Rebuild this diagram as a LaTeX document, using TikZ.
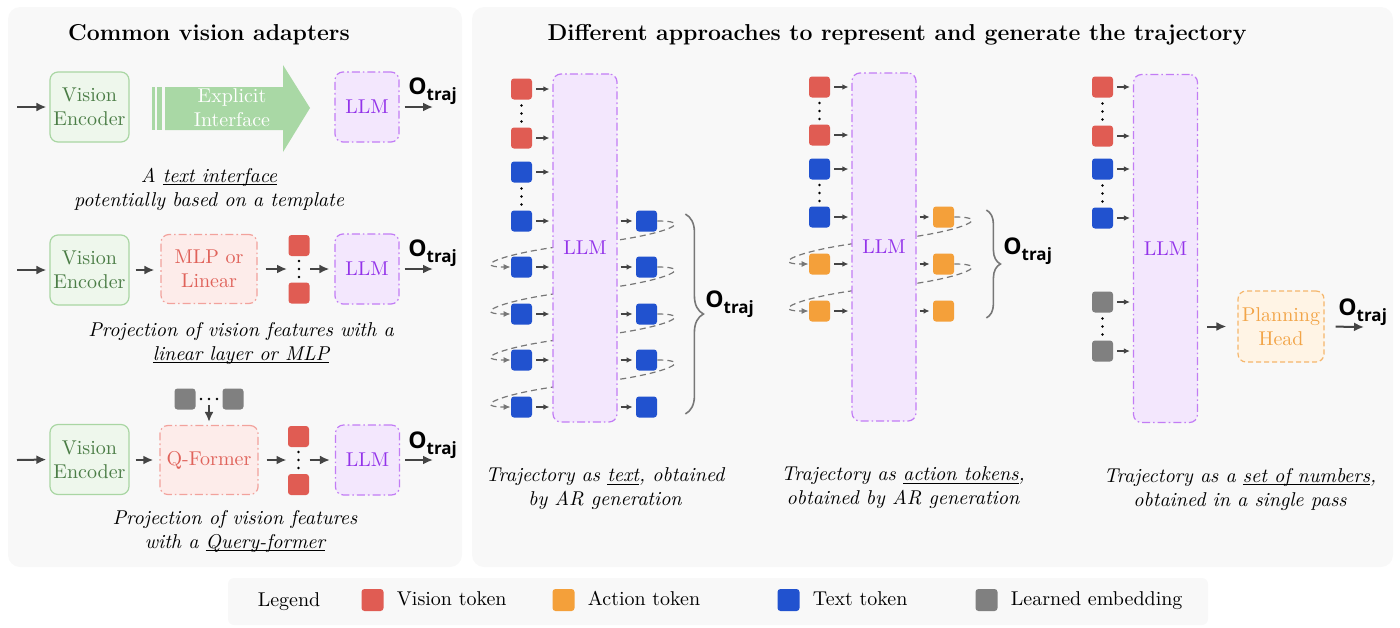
\documentclass[tikz,border=0pt]{standalone}
\usepackage{fontspec}
\newfontfamily\osans{Open Sans}
\usetikzlibrary{positioning,arrows.meta,decorations.pathreplacing,calc}

\definecolor{visred}{HTML}{E05C53}
\definecolor{actorange}{HTML}{F4A03A}
\definecolor{txtblue}{HTML}{2152CF}
\definecolor{embgray}{HTML}{808080}
\definecolor{panelgray}{HTML}{F8F8F8}
\definecolor{encfill}{HTML}{EEF7EC}
\definecolor{encdraw}{HTML}{A9D6A3}
\definecolor{enctext}{HTML}{4B7D46}
\definecolor{ifgreen}{HTML}{A9D8A5}
\definecolor{llmfill}{HTML}{F3E7FD}
\definecolor{llmdraw}{HTML}{C27CF5}
\definecolor{llmtext}{HTML}{9333EA}
\definecolor{projfill}{HTML}{FDECEA}
\definecolor{projdraw}{HTML}{F2A29C}
\definecolor{projtext}{HTML}{E0625A}
\definecolor{hdfill}{HTML}{FFF4E5}
\definecolor{hddraw}{HTML}{F5B66C}
\definecolor{hdtext}{HTML}{F2A447}
\definecolor{arrgray}{HTML}{444444}
\definecolor{loopgray}{HTML}{777777}

\newsavebox{\ulbox}
\newcommand{\ulin}[1]{\sbox{\ulbox}{#1}\rlap{\rule[-1.3pt]{\wd\ulbox}{0.45pt}}\usebox{\ulbox}}
\newcommand{\otraj}{{\osans\bfseries\fontsize{11.5}{13}\selectfont O\raisebox{-0.45ex}{\fontsize{8.5}{10}\selectfont traj}}}
% three dots, vertical or horizontal, round a point
\newcommand{\vdotsat}[1]{\foreach \k in {-8,0,8} \fill ($(#1)+(0,\k)$) circle (0.65pt);}
\newcommand{\hdotsat}[1]{\foreach \k in {-8,0,8} \fill ($(#1)+(\k,0)$) circle (0.65pt);}

\begin{document}
\begin{tikzpicture}[x=0.5pt, y=-0.5pt,
    tok/.style={rectangle, rounded corners=1.5pt, minimum size=10.5pt, inner sep=0pt},
    vis/.style={tok, fill=visred},
    act/.style={tok, fill=actorange},
    txt/.style={tok, fill=txtblue},
    emb/.style={tok, fill=embgray},
    enc/.style={draw=encdraw, fill=encfill, text=enctext, rounded corners=4pt, line width=0.6pt,
        minimum width=39.5pt, minimum height=35pt, inner sep=1pt, align=center},
    llm/.style={draw=llmdraw, fill=llmfill, text=llmtext, rounded corners=4pt, line width=0.6pt,
        dash pattern=on 4pt off 1.5pt on 0.8pt off 1.5pt, minimum width=32pt, minimum height=35pt},
    tallllm/.style={llm, minimum height=174pt},
    proj/.style={draw=projdraw, fill=projfill, text=projtext, rounded corners=4pt, line width=0.6pt,
        dash pattern=on 4pt off 1.5pt on 0.8pt off 1.5pt, minimum width=48pt, minimum height=34.5pt, align=center},
    planhd/.style={draw=hddraw, fill=hdfill, text=hdtext, rounded corners=4pt, line width=0.6pt,
        dash pattern=on 2.5pt off 1.5pt, minimum width=43pt, minimum height=35.5pt, inner sep=1pt, align=center},
    arr/.style={draw=arrgray, line width=1pt, -{Latex[length=5pt,width=4.5pt]}},
    sarr/.style={draw=arrgray, line width=0.65pt, -{Latex[length=3pt,width=2.8pt]}},
    regen/.style={draw=loopgray, line width=0.6pt, dash pattern=on 3pt off 2pt, -{Latex[length=3.5pt,width=3pt]}},
    brc/.style={draw=loopgray, line width=0.8pt, decorate, decoration={brace, amplitude=9pt}},
    capt/.style={font=\itshape, align=center},
    ttl/.style={font=\fontsize{11.5}{14}\selectfont\bfseries},
    otrajlbl/.style={anchor=west, inner sep=0pt},
    lgtxt/.style={text height=1.6ex, text depth=0.3ex}]

    \useasboundingbox (0,0) rectangle (1400,627);
    % panels
    \fill[panelgray, rounded corners=6pt] (8,7) rectangle (462,567);
    \fill[panelgray, rounded corners=6pt] (472,7) rectangle (1393,567);
    \fill[panelgray, rounded corners=3pt] (228,578) rectangle (1208,625);

    \node[ttl] (ttlA) at (209,35) {Common vision adapters};
    \node[ttl] (ttlB) at (897,35) {Different approaches to represent and generate the trajectory};

    % text interface
    \node[enc] (enc1) at (89.5,107) {Vision\\Encoder};
    \fill[ifgreen] (152,87) rectangle (155,130);
    \fill[ifgreen] (157,87) rectangle (162,130);
    \fill[ifgreen] (165,87) -- (283,87) -- (283,65) -- (310,108) -- (283,152) -- (283,130) -- (165,130) -- cycle;
    \node[text=white, align=center] (iface) at (232,108) {Explicit\\Interface};
    \node[llm] (llm1) at (367,107) {LLM};
    \coordinate (src1) at (17,107);
    \coordinate (dst1) at (433,107);
    \draw[arr, shorten >=1.5pt] (src1) -- (enc1.west);
    \draw[arr, shorten <=2.5pt] (llm1.east) -- (dst1);
    \node[otrajlbl] (o1) at (408,91) {\otraj};
    \node[capt] (cap1) at (209,189) {A \ulin{text interface}\\potentially based on a template};

    % MLP
    \node[enc] (enc2) at (89.5,270) {Vision\\Encoder};
    \node[proj] (mlp) at (209,269) {MLP or\\Linear};
    \node[vis] (v21) at (299,245.5) {};
    \node[vis] (v22) at (299,293) {};
    \coordinate (d2) at (299,269);
    \vdotsat{d2}
    \node[llm] (llm2) at (367,269) {LLM};
    \coordinate (src2) at (17,270);
    \coordinate (dst2) at (433,269);
    \draw[arr, shorten >=1.5pt] (src2) -- (enc2.west);
    \draw[arr, shorten <=3pt, shorten >=3pt] (enc2.east) -- (enc2.east -| mlp.west);
    \draw[arr, shorten <=4pt, shorten >=6pt] (mlp.east) -- (d2);
    \draw[arr, shorten <=5.5pt, shorten >=2.5pt] (d2) -- (llm2.west);
    \draw[arr, shorten <=2.5pt] (llm2.east) -- (dst2);
    \node[otrajlbl] (o2) at (408,253) {\otraj};
    \node[capt] (cap2) at (241,343.5) {Projection of vision features with a\\\ulin{linear layer or MLP}};

    % Q-Former
    \node[emb] (g31) at (185,399) {};
    \node[emb] (g32) at (233,399) {};
    \coordinate (h3) at (209,399);
    \hdotsat{h3}
    \node[enc] (enc3) at (89.5,459.5) {Vision\\Encoder};
    \node[proj] (qf) at (209,460) {Q-Former};
    \node[vis] (v31) at (298.5,436.5) {};
    \node[vis] (v32) at (298.5,484.5) {};
    \coordinate (d3) at (298.5,460);
    \vdotsat{d3}
    \node[llm] (llm3) at (367.5,460) {LLM};
    \coordinate (src3) at (17,460);
    \coordinate (dst3) at (433,460);
    \draw[arr, shorten <=3pt, shorten >=1.5pt] (h3) -- (qf.north);
    \draw[arr, shorten >=1.5pt] (src3) -- (enc3.west);
    \draw[arr, shorten <=3pt, shorten >=3pt] (enc3.east |- qf.west) -- (qf.west);
    \draw[arr, shorten <=4pt, shorten >=6pt] (qf.east) -- (d3);
    \draw[arr, shorten <=5.5pt, shorten >=2.5pt] (d3) -- (llm3.west);
    \draw[arr, shorten <=2.5pt] (llm3.east) -- (dst3);
    \node[otrajlbl] (o3) at (408,445) {\otraj};
    \node[capt] (cap3) at (235,531.5) {Projection of vision features\\with a \ulin{Query-former}};

    % trajectory as text
    \foreach \n/\y/\c in {1/89/vis,2/138/vis,3/172/txt,4/221/txt,5/267/txt,6/314/txt,7/360/txt,8/407/txt}
        \node[\c] (ai\n) at (521.5,\y) {};
    \foreach \n/\y in {4/221,5/267,6/314,7/360,8/407}
        \node[txt] (ao\n) at (646.5,\y) {};
    \coordinate (ad1) at (521.5,113.5);
    \coordinate (ad2) at (521.5,196.5);
    \vdotsat{ad1} \vdotsat{ad2}
    \foreach \i/\j in {4/5,5/6,6/7,7/8}
        \draw[regen] (ao\i.east) .. controls +(45,0) and +(70,-6) .. ($(ao\i.east)!.5!(ai\j.west)$)
            .. controls +(-70,6) and +(-45,0) .. (ai\j.west);
    \node[tallllm] (llmA) at (585,248) {LLM};
    \foreach \n in {1,...,8}
        \draw[sarr, shorten <=2pt, shorten >=1.5pt] (ai\n.east) -- (ai\n.east -| llmA.west);
    \foreach \n in {4,...,8}
        \draw[sarr, shorten <=1.5pt, shorten >=1.5pt] (ao\n.west -| llmA.east) -- (ao\n.west);
    \draw[brc] ($(ao4.north east)+(28,4)$) -- ($(ao8.south east)+(28,-4)$);
    \node[otrajlbl] (oA) at (705,304) {\otraj};
    \node[capt] (capA) at (605,489) {Trajectory as \ulin{text}, obtained\\by AR generation};

    % trajectory as action tokens
    \foreach \n/\y/\c in {1/87/vis,2/135/vis,3/169/txt,4/217/txt,5/264/act,6/311/act}
        \node[\c] (bi\n) at (819.5,\y) {};
    \foreach \n/\y in {4/217,5/264,6/311}
        \node[act] (bo\n) at (943.5,\y) {};
    \coordinate (bd1) at (819.5,111);
    \coordinate (bd2) at (819.5,193);
    \vdotsat{bd1} \vdotsat{bd2}
    \foreach \i/\j in {4/5,5/6}
        \draw[regen] (bo\i.east) .. controls +(45,0) and +(70,-6) .. ($(bo\i.east)!.5!(bi\j.west)$)
            .. controls +(-70,6) and +(-45,0) .. (bi\j.west);
    \node[tallllm] (llmB) at (884,247) {LLM};
    \foreach \n in {1,...,6}
        \draw[sarr, shorten <=2pt, shorten >=1.5pt] (bi\n.east) -- (bi\n.east -| llmB.west);
    \foreach \n in {4,...,6}
        \draw[sarr, shorten <=1.5pt, shorten >=1.5pt] (bo\n.west -| llmB.east) -- (bo\n.west);
    \draw[brc, decoration={brace, amplitude=7pt}] ($(bo4.north east)+(32,4)$) -- ($(bo6.south east)+(32,-4)$);
    \node[otrajlbl] (oB) at (1003,251) {\otraj};
    \node[capt] (capB) at (903,488) {Trajectory as \ulin{action tokens},\\obtained by AR generation};

    % trajectory as numbers
    \foreach \n/\y/\c in {1/87/vis,2/136/vis,3/169/txt,4/218/txt,5/302/emb,6/351/emb}
        \node[\c] (ci\n) at (1102.5,\y) {};
    \coordinate (cd1) at (1102.5,111.5);
    \coordinate (cd2) at (1102.5,193.5);
    \coordinate (cd3) at (1102.5,326.5);
    \vdotsat{cd1} \vdotsat{cd2} \vdotsat{cd3}
    \node[tallllm] (llmC) at (1165.5,248.5) {LLM};
    \foreach \n in {1,...,6}
        \draw[sarr, shorten <=2pt, shorten >=1.5pt] (ci\n.east) -- (ci\n.east -| llmC.west);
    \node[planhd] (phead) at (1281,326.5) {Planning\\Head};
    \coordinate (dstC) at (1364,327);
    \draw[arr, shorten <=4.5pt, shorten >=5.5pt] (phead.west -| llmC.east) -- (phead.west);
    \draw[arr, shorten <=5.5pt] (phead.east) -- (dstC);
    \node[otrajlbl] (oC) at (1338,312) {\otraj};
    \node[capt] (capC) at (1240,489) {Trajectory as a \ulin{set of numbers},\\obtained in a single pass};

    % legend
    \node[lgtxt] (lgd) at (289,601) {Legend};
    \node[vis, minimum size=11pt] (lvis) at (372.5,600) {};
    \node[lgtxt, right=3pt of lvis] (lvist) {Vision token};
    \node[act, minimum size=11pt] (lact) at (563.5,600) {};
    \node[lgtxt, right=3pt of lact] (lactt) {Action token};
    \node[txt, minimum size=11pt] (ltxt) at (788.5,600) {};
    \node[lgtxt, right=3pt of ltxt] (ltxtt) {Text token};
    \node[emb, minimum size=11pt] (lemb) at (986.5,600) {};
    \node[lgtxt, right=3pt of lemb] (lembt) {Learned embedding};
\end{tikzpicture}
\end{document}
